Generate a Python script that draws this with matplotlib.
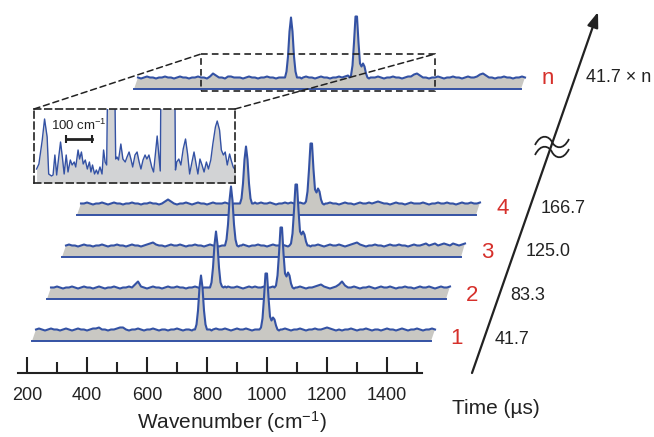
import numpy as np
import matplotlib.pyplot as plt
from matplotlib.patches import Rectangle, ConnectionPatch, PathPatch
from matplotlib.path import Path

plt.rcParams['font.family'] = ['Liberation Sans', 'DejaVu Sans']
plt.rcParams['mathtext.fontset'] = 'custom'
plt.rcParams['mathtext.rm'] = 'Liberation Sans'
plt.rcParams['mathtext.default'] = 'regular'

W, H = 654, 437
BLUE = '#3452a4'
GRAY = '#c9c8c3'
INSET_GRAY = '#d2d3d5'
RED = '#d6302b'
INK = '#222222'

# ---- data -------------------------------------------------------------
# wavenumber grid shared by the spectra (finer around the two bands);
# every spectrum ends at the last grid point
grid = np.concatenate([np.arange(230, 751, 10), np.arange(755, 816, 5),
                       np.arange(820, 971, 10), np.arange(975, 1046, 5),
                       np.arange(1050, 1561, 10)])

spec_1 = ([1, 2, 1, 0, 1, 2, 1, 1, 0, 1, 2, 1, 0, 1, 2, 1, 1, 0, 1, 2,
           2, 3, 1, 1, 0, 1, 1, 2, 3, 3, 1, 0, 1, 1, 2, 1, 0, 1, 1, 2,
           1, 0, 1, 1, 0, 1, 1, 2, 1, 0, 1, 1, 0]
          + [1, 1, 6, 20, 43, 55, 43, 20, 6, 1, 1, 1, 0]
          + [1, 2, 1, 1, 2, 1, 0, 1, 2, 1, 1, 2, 1, 0, 1, 1]
          + [1, 3, 12, 33, 57, 57, 33, 14, 10, 13, 11, 5, 1, 0, 1]
          + [1, 2, 1, 0, 1, 1, 2, 1, 0, 1, 1, 2, 1, 1, 2, 3, 2, 1, 0, 1,
             0, 1, 1, 2, 1, 0, 1, 1, 2, 1, 0, 1, 1, 0, 1, 2, 1, 1, 0, 1,
             2, 1, 0, 1, 1, 2, 1, 0, 1, 1, 2, 1])

spec_2 = ([1, 1, 2, 1, 0, 1, 1, 2, 1, 0, 1, 2, 1, 1, 0, 1, 2, 1, 0, 1,
           1, 2, 1, 0, 1, 1, 2, 1, 4, 7, 2, 1, 0, 1, 2, 1, 1, 0, 1, 2,
           1, 1, 2, 1, 1, 0, 1, 1, 2, 1, 0, 1, 1]
          + [1, 1, 6, 21, 44, 57, 44, 21, 6, 2, 1, 2, 1]
          + [2, 1, 1, 2, 1, 0, 1, 2, 1, 2, 1, 1, 2, 1, 1, 2]
          + [1, 3, 13, 35, 61, 61, 35, 15, 12, 16, 13, 5, 1, 0, 1]
          + [1, 2, 1, 0, 1, 1, 2, 3, 4, 2, 1, 0, 1, 2, 4, 7, 3, 1, 1, 2,
             1, 0, 1, 1, 2, 1, 0, 1, 2, 1, 1, 2, 1, 0, 1, 1, 2, 1, 1, 0,
             1, 2, 1, 1, 2, 1, 0, 1, 2, 1, 1, 2])

spec_3 = ([1, 2, 1, 1, 0, 1, 2, 1, 1, 0, 1, 1, 2, 1, 0, 1, 1, 2, 1, 1,
           0, 1, 2, 1, 1, 0, 1, 2, 3, 4, 2, 1, 1, 0, 1, 2, 1, 1, 2, 1,
           0, 1, 1, 2, 1, 1, 0, 1, 2, 1, 1, 0, 1]
          + [1, 1, 7, 22, 46, 60, 46, 22, 7, 1, 0, 1, 1]
          + [2, 1, 0, 1, 1, 2, 1, 1, 0, 1, 2, 1, 1, 2, 1, 0]
          + [1, 3, 13, 36, 62, 62, 36, 15, 12, 15, 12, 5, 1, 1, 0]
          + [1, 1, 2, 1, 0, 1, 2, 1, 1, 2, 1, 0, 1, 2, 3, 4, 2, 1, 0, 1,
             1, 2, 1, 1, 0, 1, 2, 1, 1, 2, 1, 1, 0, 1, 2, 1, 1, 2, 3, 1,
             2, 3, 1, 2, 3, 2, 1, 3, 2, 1, 2, 3])

spec_4 = ([1, 1, 2, 1, 0, 1, 1, 2, 1, 0, 1, 2, 1, 1, 0, 1, 1, 2, 1, 1,
           0, 1, 1, 2, 1, 1, 0, 1, 3, 5, 3, 1, 0, 1, 1, 2, 1, 0, 1, 2,
           1, 1, 0, 1, 2, 1, 1, 1, 2, 1, 0, 1, 1]
          + [1, 1, 6, 21, 45, 58, 45, 21, 6, 1, 1, 2, 1]
          + [1, 2, 1, 1, 2, 1, 0, 1, 1, 2, 1, 2, 1, 1, 2, 1]
          + [1, 3, 13, 35, 61, 61, 35, 15, 12, 16, 13, 5, 1, 0, 1]
          + [1, 2, 1, 1, 0, 1, 2, 1, 1, 0, 1, 2, 1, 1, 2, 1, 2, 3, 2, 1,
             1, 0, 1, 2, 1, 1, 0, 1, 2, 1, 1, 1, 2, 1, 0, 1, 1, 2, 1, 1,
             2, 1, 1, 0, 1, 2, 1, 1, 2, 1, 1, 2])

# spectrum n starts a little later (270 cm-1)
spec_n = ([1, 0, 1, 2, 1, 1, 0, 1, 1, 2, 1, 1, 0, 1, 2, 1,
           1, 0, 1, 1, 2, 1, 1, 0, 2, 5, 3, 1, 1, 0, 2, 2, 1, 1, 1, 0,
           1, 2, 1, 1, 0, 1, 1, 2, 1, 1, 0, 1, 1]
          + [1, 1, 7, 22, 47, 61, 47, 22, 7, 1, 1, 1, 0]
          + [1, 2, 1, 1, 0, 1, 2, 1, 1, 0, 1, 1, 2, 1, 2, 3]
          + [1, 3, 13, 36, 62, 62, 36, 15, 12, 15, 12, 5, 1, 0, 1]
          + [1, 1, 2, 1, 0, 1, 1, 2, 1, 1, 0, 1, 2, 2, 4, 5, 3, 1, 1, 0,
             1, 1, 2, 1, 0, 1, 1, 2, 1, 1, 0, 1, 2, 1, 1, 2, 4, 5, 3, 1,
             1, 0, 1, 1, 2, 1, 1, 0, 1, 1, 2, 1])

spectra = [spec_1, spec_2, spec_3, spec_4, spec_n]
trace_names = ['1', '2', '3', '4', 'n']
times = ['41.7', '83.3', '125.0', '166.7', '41.7 × n']

# magnified baseline of spectrum n (inset)
inset_wn = [490, 499, 512, 521, 531, 537, 548, 554, 561, 568, 576, 583, 590, 597, 605,
            612, 621, 628, 636, 642, 651, 657, 664, 671, 679, 687, 695, 701, 707, 715,
            722, 728, 736, 744, 750, 756, 762, 768, 780, 791, 797, 802, 808, 817, 825,
            834, 841, 849, 857, 863, 872, 880, 888, 895, 903, 911, 918, 926, 937, 944,
            953, 958, 965, 970, 974, 1000, 1025, 1029, 1034, 1042, 1050, 1059, 1068, 1076,
            1084, 1093, 1101, 1109, 1116, 1124, 1132, 1140, 1149, 1157, 1166, 1174, 1184,
            1191, 1200, 1207, 1215, 1222, 1230, 1239, 1245, 1253, 1261, 1266]
inset_int = [14, 19, 43, 64, 46, 9, 7, 8, 28, 8, 26, 41, 26, 9, 28, 11, 23, 18, 21, 16,
             33, 24, 31, 19, 23, 14, 21, 11, 18, 9, 13, 9, 16, 9, 33, 21, 18, 150, 200, 150,
             24, 26, 23, 39, 24, 21, 26, 31, 23, 16, 28, 31, 21, 14, 23, 28, 24, 28, 16, 11,
             34, 47, 26, 12, 150, 200, 150, 13, 21, 24, 18, 34, 44, 29, 9, 21, 31, 19, 9, 24,
             18, 11, 21, 14, 23, 39, 56, 62, 53, 33, 28, 31, 18, 29, 23, 16, 13, 12]

major_ticks = [200, 400, 600, 800, 1000, 1200, 1400]
minor_ticks = [300, 500, 700, 900, 1100, 1300, 1500]

# ---- layout -----------------------------------------------------------
slots = [0, 1, 2, 3, 6]        # vertical position of each spectrum in the stack
STEP_X, STEP_Y = 50, 42        # shift per slot (cm-1, px)
BASE0 = 106.5                  # baseline height of spectrum 1 (px from bottom)
DEPTH_X, DEPTH_Y = 13.3, 10.5  # thickness of the grey ribbon


def fig_xy(x, y):
    return x / W, 1 - y / H


fig = plt.figure(figsize=(W / 100, H / 100), dpi=100)
ax = fig.add_axes([0, 0, 1, 1])
ax.set_xlim(110, 110 + W / 0.3)
ax.set_ylim(0, H)
ax.patch.set_visible(False)

for s, spec in zip(slots, spectra):
    x = grid[-len(spec):] + s * STEP_X
    base = BASE0 + s * STEP_Y
    y = base + np.array(spec, dtype=float)
    xf = x[[0, -1]] - DEPTH_X
    yb = base - DEPTH_Y
    z = 20 - 2 * s
    ax.fill(np.r_[xf, x[::-1]], np.r_[yb, yb, y[::-1]], color=GRAY, lw=0, zorder=z)
    ax.plot(x, y, color=BLUE, lw=1.5, zorder=z + 0.5, solid_joinstyle='round')
    ax.plot(xf, [yb, yb], color=BLUE, lw=1.4, zorder=z + 0.5)

# wavenumber axis
for side in ['top', 'left', 'right']:
    ax.spines[side].set_visible(False)
ax.spines['bottom'].set_position(('data', H - 373))
ax.spines['bottom'].set_bounds(170, 1517)
ax.spines['bottom'].set_linewidth(1.5)
ax.spines['bottom'].set_color(INK)
ax.set_xticks(major_ticks)
ax.set_xticks(minor_ticks, minor=True)
ax.set_yticks([])
ax.tick_params(axis='x', which='major', direction='in', length=11.5, width=1.5,
               pad=10, labelsize=13, colors=INK)
ax.tick_params(axis='x', which='minor', direction='in', length=8, width=1.5, colors=INK)
fig.text(*fig_xy(232, 422), 'Wavenumber (cm$^{-1}$)', ha='center', va='center',
         fontsize=15, color=INK)

# inset with the magnified baseline
ax_in = fig.add_axes([34 / W, (H - 183) / H, 201 / W, 74 / H])
ax_in.fill_between(inset_wn, inset_int, color=INSET_GRAY, lw=0)
ax_in.plot(inset_wn, inset_int, color=BLUE, lw=1)
ax_in.set_xlim(480, 1260)
ax_in.set_ylim(0, 74)
ax_in.set_xticks([])
ax_in.set_yticks([])
ax_in.patch.set_facecolor('white')
for sp in ax_in.spines.values():
    sp.set_linestyle((0, (4, 2.5)))
    sp.set_linewidth(1.2)
    sp.set_color(INK)
ax_in.plot([605, 705], [44, 44], color=INK, lw=2, marker='|', ms=6, mew=1.5)
ax_in.text(655, 58, '100 cm$^{-1}$', ha='center', va='center', fontsize=9.5, color=INK)

# dashed zoom box on spectrum n and connectors
sn = slots[-1]
bx0, bx1 = 480 + sn * STEP_X, 1260 + sn * STEP_X
by0 = BASE0 + sn * STEP_Y - DEPTH_Y - 1.5
by1 = BASE0 + sn * STEP_Y + 24.5
ax.add_patch(Rectangle((bx0, by0), bx1 - bx0, by1 - by0, fill=False, ec=INK,
                       lw=1.2, ls=(0, (4, 2.5)), zorder=30))
for xa, xb in [(0, bx0), (1, bx1)]:
    con = ConnectionPatch(xyA=(xa, 1), coordsA=ax_in.transAxes, xyB=(xb, by1),
                          coordsB=ax.transData, color=INK, lw=1.1, ls=(0, (4, 2.5)))
    fig.add_artist(con)

# time arrow
x0, y0, x1, y1 = 472, 373, 598, 12
ax.annotate('', xy=fig_xy(x1, y1), xytext=fig_xy(x0, y0), xycoords='figure fraction',
            arrowprops=dict(arrowstyle='-|>,head_length=0.6,head_width=0.22',
                            color=INK, lw=1.6, mutation_scale=15, shrinkA=0, shrinkB=0))

# axis-break mark: two tilde strokes across the arrow
bx, by = 552, 147
tilde = [(-17, 3), (-11, -9), (-3, -6), (0, 0), (3, 6), (11, 9), (17, -3)]
codes = [Path.MOVETO] + [Path.CURVE4] * 6
for off in (-5, 5):
    verts = [fig_xy(bx + dx, by + off + dy) for dx, dy in tilde]
    fig.add_artist(PathPatch(Path(verts, codes), transform=fig.transFigure,
                             fill=False, lw=1.3, ec=INK))

for s, name, t in zip(slots, trace_names, times):
    ly = 339 - 43.5 * s
    lx = x0 + (y0 - ly) * (x1 - x0) / (y0 - y1)
    fig.text(*fig_xy(lx - 27, ly), name, ha='center', va='center', fontsize=16, color=RED)
    fig.text(*fig_xy(lx + 11, ly), t, ha='left', va='center', fontsize=13, color=INK)

fig.text(*fig_xy(496, 408), 'Time (µs)', ha='center', va='center', fontsize=15, color=INK)

fig.savefig('out.png', dpi=100)
